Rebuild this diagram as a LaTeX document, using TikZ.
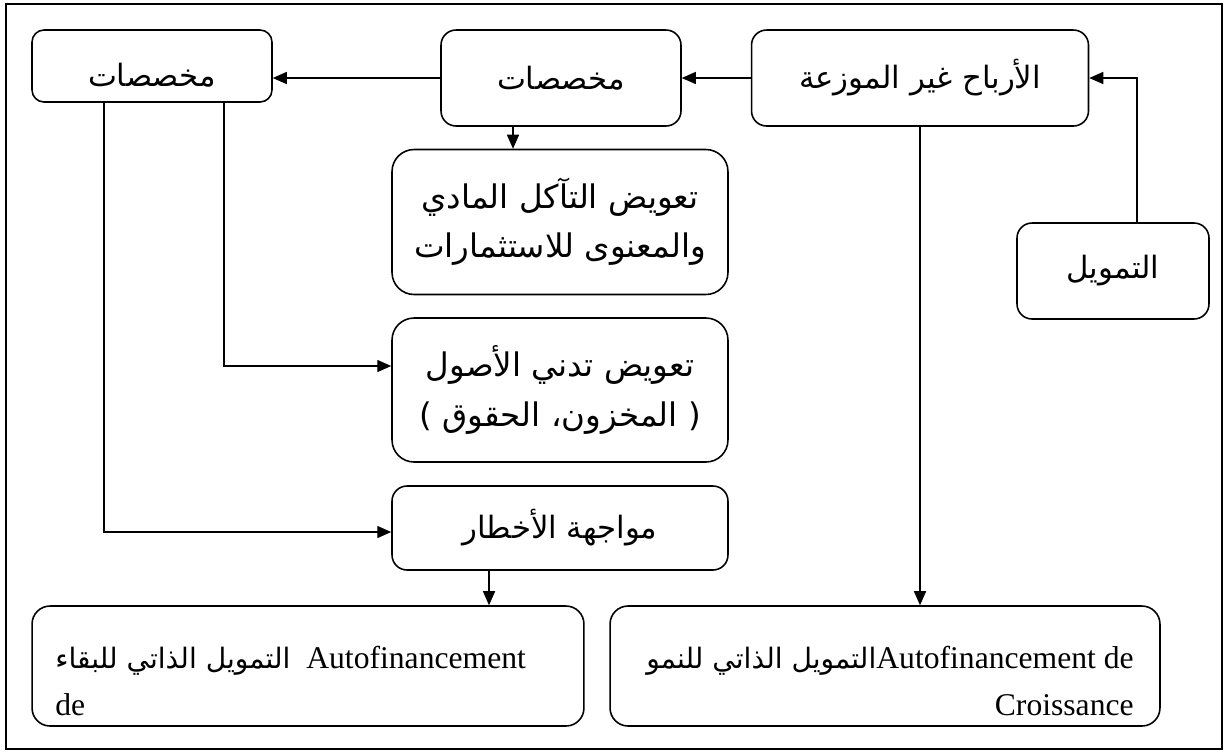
\documentclass[tikz,border=0pt]{standalone}
\usepackage{fontspec}
\setmainfont{Liberation Serif}
\newfontfamily\arabicfont[Script=Arabic]{DejaVu Sans}
\TeXXeTstate=1
\usetikzlibrary{arrows.meta}

\begin{document}
\begin{tikzpicture}[
		x=0.02cm, y=-0.02cm,
		box/.style={draw, rounded corners=0.3cm, line width=0.9pt, align=center,
				font=\arabicfont\fontsize{17.5}{28}\selectfont},
		bigbox/.style={box, minimum width=6.72cm, rounded corners=0.44cm,
				font=\arabicfont\fontsize{18.5}{28}\selectfont},
		latin/.style={inner sep=0pt, font=\fontsize{18}{27}\selectfont},
		arr/.style={-{Triangle[length=0.28cm,width=0.24cm]}, line width=0.8pt}
	]
	\useasboundingbox (0,0) rectangle (1230,752);
	\draw[line width=1.1pt] (6,4) rectangle (1222,749);
	% top row
	\node[box, minimum width=4.8cm, minimum height=1.44cm, rounded corners=0.24cm,
		text height=0.9cm, text depth=0.1cm] (lprov) at (152,66) {\beginR مخصصات\endR};
	\node[box, minimum width=4.8cm, minimum height=1.92cm] (mprov) at (561,78) {\beginR مخصصات\endR};
	\node[box, minimum width=6.74cm, minimum height=1.92cm] (profits) at (920,78) {\beginR الأرباح غير الموزعة\endR};
	\node[box, minimum width=3.84cm, minimum height=1.92cm] (funding) at (1113,271) {\beginR التمويل\endR};
	% middle column
	\node[bigbox, minimum height=2.9cm] (wear) at (560,222)
		{\beginR تعويض التآكل المادي\endR\\ \beginR والمعنوى للاستثمارات\endR};
	\node[bigbox, minimum height=2.88cm] (impair) at (560,390)
		{\beginR تعويض تدني الأصول\endR\\ \beginR ( المخزون، الحقوق )\endR};
	\node[box, minimum width=6.72cm, minimum height=1.68cm] (risks) at (560,528) {\beginR مواجهة الأخطار\endR};
	% bottom row
	\node[box, minimum width=11.04cm, minimum height=2.4cm, rounded corners=0.36cm] (survival) at (308,666) {};
	\node[box, minimum width=11cm, minimum height=2.4cm, rounded corners=0.36cm] (growth) at (885,666) {};
	\node[latin, anchor=west, align=left] (survtext) at (55,681)
		{{\arabicfont\fontsize{16}{27}\selectfont\beginR التمويل الذاتي للبقاء\endR}\ \ Autofinancement\\de};
	\node[latin, anchor=east, align=right] (growtext) at (1134,681)
		{{\arabicfont\fontsize{16}{27}\selectfont\beginR التمويل الذاتي للنمو\endR}Autofinancement de\\Croissance};
	% connectors
	\draw[arr] (profits.west) -- (mprov.east);
	\draw[arr] (mprov.west) -- (mprov.west -| lprov.east);
	\draw[arr] ([xshift=0.48cm]funding.north) |- (profits.east);
	\draw[arr] ([xshift=-0.96cm]mprov.south) -- ([xshift=-0.96cm]mprov.south |- wear.north);
	\draw[arr] ([xshift=1.44cm]lprov.south) |- ([yshift=0.48cm]impair.west);
	\draw[arr] ([xshift=-0.96cm]lprov.south) |- ([yshift=-0.08cm]risks.west);
	\draw[arr] ([xshift=-1.42cm]risks.south) -- ([xshift=-1.42cm]risks.south |- survival.north);
	\draw[arr] (profits.south) -- (profits.south |- growth.north);
\end{tikzpicture}
\end{document}
